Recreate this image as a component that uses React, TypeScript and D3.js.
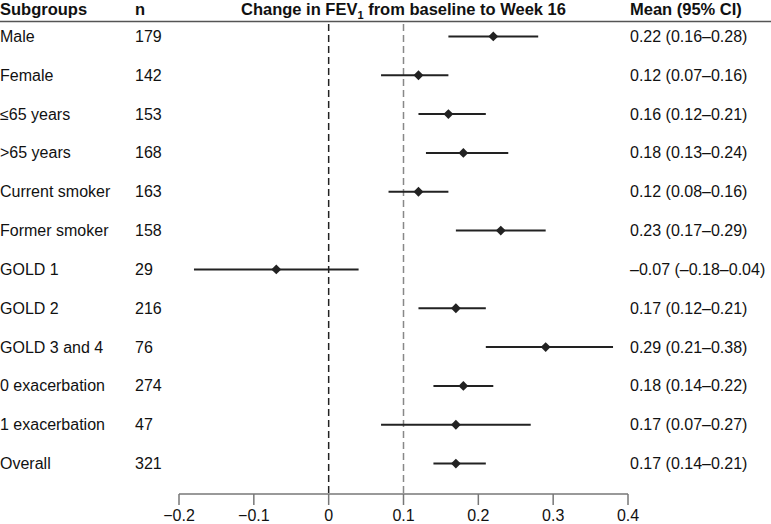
import React from "react";
import * as d3 from "d3";

const subgroups = ["Male", "Female", "\u226465 years", ">65 years", "Current smoker", "Former smoker", "GOLD 1", "GOLD 2", "GOLD 3 and 4", "0 exacerbation", "1 exacerbation", "Overall"];
const nValues = [179, 142, 153, 168, 163, 158, 29, 216, 76, 274, 47, 321];
const means = [0.22, 0.12, 0.16, 0.18, 0.12, 0.23, -0.07, 0.17, 0.29, 0.18, 0.17, 0.17];
const lowers = [0.16, 0.07, 0.12, 0.13, 0.08, 0.17, -0.18, 0.12, 0.21, 0.14, 0.07, 0.14];
const uppers = [0.28, 0.16, 0.21, 0.24, 0.16, 0.29, 0.04, 0.21, 0.38, 0.22, 0.27, 0.21];
const ciLabels = ["0.22 (0.16\u20130.28)", "0.12 (0.07\u20130.16)", "0.16 (0.12\u20130.21)", "0.18 (0.13\u20130.24)", "0.12 (0.08\u20130.16)", "0.23 (0.17\u20130.29)", "\u20130.07 (\u20130.18\u20130.04)", "0.17 (0.12\u20130.21)", "0.29 (0.21\u20130.38)", "0.18 (0.14\u20130.22)", "0.17 (0.07\u20130.27)", "0.17 (0.14\u20130.21)"];
const xTicks = [-0.2, -0.1, 0, 0.1, 0.2, 0.3, 0.4];
const refLines = [0, 0.1];

const W = 771;
const H = 524;
const FONT = "'Liberation Sans', Arial, sans-serif";

export default function App() {
  const x = d3.scaleLinear().domain([-0.2, 0.4]).range([179, 628]);
  const y = d3.scaleBand().domain(subgroups).range([17, 483]).paddingInner(0).paddingOuter(0);
  const cy = (g: string) => (y(g) as number) + y.bandwidth() / 2;
  const axisY = 494;
  const tickFmt = (v: number) => (v === 0 ? "0" : (v < 0 ? "\u2212" : "") + d3.format(".1f")(Math.abs(v)));
  const diamond = d3.symbol().type(d3.symbolDiamond2).size(62);
  return (
    <svg width={W} height={H} style={{ position: "absolute", left: 0, top: 0, background: "#fff" }} fontFamily={FONT}>
      <g fontSize={16.5} fontWeight="bold" fill="#111">
        <text x={0} y={15}>Subgroups</text>
        <text x={135} y={15}>n</text>
        <text x={x(0.1)} y={15} textAnchor="middle">
          Change in FEV<tspan fontSize={11} dy={4}>1</tspan><tspan dy={-4}> from baseline to Week 16</tspan>
        </text>
        <text x={630} y={15}>Mean (95% CI)</text>
      </g>
      <line x1={0} x2={W} y1={21.5} y2={21.5} stroke="#555" strokeWidth={1.5} />
      {refLines.map((v, i) => (
        <line key={v} x1={x(v)} x2={x(v)} y1={24} y2={axisY} stroke={i === 0 ? "#222" : "#888"} strokeWidth={1.5} strokeDasharray="7,4" />
      ))}
      {subgroups.map((g, i) => (
        <g key={g}>
          <text x={0} y={cy(g) + 5.5} fontSize={16} fill="#111">{g}</text>
          <text x={135} y={cy(g) + 5.5} fontSize={16} fill="#111">{nValues[i]}</text>
          <text x={630} y={cy(g) + 5.5} fontSize={16} fill="#111">{ciLabels[i]}</text>
          <line x1={x(lowers[i])} x2={x(uppers[i])} y1={cy(g)} y2={cy(g)} stroke="#222" strokeWidth={2} />
          <path d={diamond() as string} transform={`translate(${x(means[i])},${cy(g)})`} fill="#222" />
        </g>
      ))}
      <line x1={x(-0.2)} x2={x(0.4)} y1={axisY} y2={axisY} stroke="#777" strokeWidth={1.5} />
      {xTicks.map((t) => (
        <g key={t}>
          <line x1={x(t)} x2={x(t)} y1={axisY} y2={axisY + 11} stroke="#777" strokeWidth={1.5} />
          <text x={x(t)} y={521} textAnchor="middle" fontSize={16} fill="#111">{tickFmt(t)}</text>
        </g>
      ))}
    </svg>
  );
}
